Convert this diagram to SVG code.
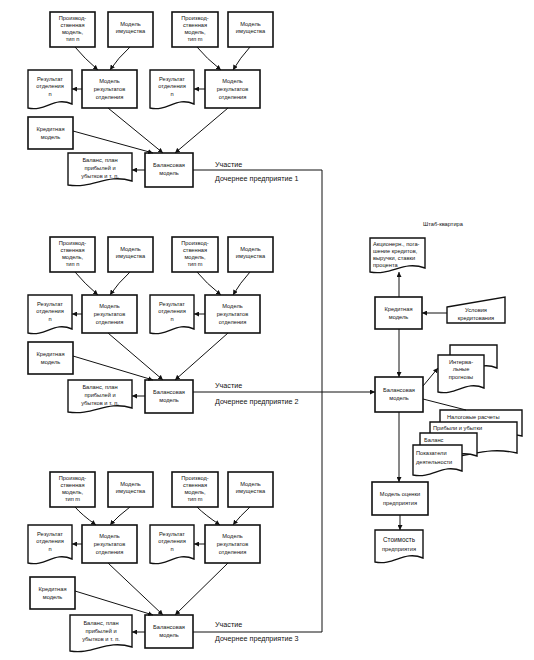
<svg xmlns="http://www.w3.org/2000/svg" width="534" height="660" viewBox="0 0 534 660">
<defs>
<style>
.bx{fill:#fff;stroke:#111;stroke-width:1.6}
.dc{fill:#fff;stroke:#111;stroke-width:1.4}
.ln{fill:none;stroke:#111;stroke-width:1}
.t{font-family:"Liberation Sans",Arial,sans-serif;font-size:5.7px;fill:#111;text-anchor:middle}
.tl{font-family:"Liberation Sans",Arial,sans-serif;font-size:5.7px;fill:#111}
.lb{font-family:"Liberation Sans",Arial,sans-serif;font-size:7.2px;fill:#111}
</style>
<marker id="ah" viewBox="0 0 6 6" refX="6" refY="3" markerWidth="5" markerHeight="5" markerUnits="userSpaceOnUse" orient="auto">
<path d="M0,0 L6,3 L0,6 Z" fill="#111"/>
</marker>
</defs>
<rect width="534" height="660" fill="#fff"/>

<g id="subsidiary-1">
<g id="s1-prod-n"><rect class="bx" x="50" y="12" width="45" height="35"/><text class="t" x="72.5" y="20">Производ-</text><text class="t" x="72.5" y="27">ственная</text><text class="t" x="72.5" y="34">модель,</text><text class="t" x="72.5" y="41">тип n</text></g>
<g id="s1-imush-1"><rect class="bx" x="108" y="12" width="45" height="35"/><text class="t" x="130.5" y="26">Модель</text><text class="t" x="130.5" y="33">имущества</text></g>
<g id="s1-prod-m"><rect class="bx" x="172" y="12" width="46" height="35"/><text class="t" x="195" y="20">Производ-</text><text class="t" x="195" y="27">ственная</text><text class="t" x="195" y="34">модель,</text><text class="t" x="195" y="41">тип m</text></g>
<g id="s1-imush-2"><rect class="bx" x="228" y="12" width="45" height="35"/><text class="t" x="250.5" y="26">Модель</text><text class="t" x="250.5" y="33">имущества</text></g>
<g id="s1-res-1"><path class="dc" d="M28,70 H72 V104 C54,96 46,112 28,108 Z"/><text class="t" x="50" y="81">Результат</text><text class="t" x="50" y="88">отделения</text><text class="t" x="50" y="96">n</text></g>
<g id="s1-mod-1"><rect class="bx" x="82" y="70" width="55" height="38"/><text class="t" x="109.5" y="83">Модель</text><text class="t" x="109.5" y="91">результатов</text><text class="t" x="109.5" y="99">отделения</text></g>
<g id="s1-res-2"><path class="dc" d="M150,70 H194 V104 C176,96 168,112 150,108 Z"/><text class="t" x="172" y="81">Результат</text><text class="t" x="172" y="88">отделения</text><text class="t" x="172" y="96">n</text></g>
<g id="s1-mod-2"><rect class="bx" x="205" y="70" width="55" height="38"/><text class="t" x="232.5" y="83">Модель</text><text class="t" x="232.5" y="91">результатов</text><text class="t" x="232.5" y="99">отделения</text></g>
<g id="s1-kred"><rect class="bx" x="28" y="117" width="45" height="32"/><text class="t" x="50.5" y="131">Кредитная</text><text class="t" x="50.5" y="139">модель</text></g>
<g id="s1-bal-doc"><path class="dc" d="M68,153 H132 V181 C106,173 94,189 68,185 Z"/><text class="t" x="100" y="162">Баланс, план</text><text class="t" x="100" y="170">прибылей и</text><text class="t" x="100" y="178">убытков и т. п.</text></g>
<g id="s1-bal-mod"><rect class="bx" x="145" y="153" width="48" height="34"/><text class="t" x="169" y="167">Балансовая</text><text class="t" x="169" y="175">модель</text></g>
</g>

<g id="subsidiary-2" transform="translate(0,225)">
<g id="s2-prod-n"><rect class="bx" x="50" y="12" width="45" height="35"/><text class="t" x="72.5" y="20">Производ-</text><text class="t" x="72.5" y="27">ственная</text><text class="t" x="72.5" y="34">модель,</text><text class="t" x="72.5" y="41">тип n</text></g>
<g id="s2-imush-1"><rect class="bx" x="108" y="12" width="45" height="35"/><text class="t" x="130.5" y="26">Модель</text><text class="t" x="130.5" y="33">имущества</text></g>
<g id="s2-prod-m"><rect class="bx" x="172" y="12" width="46" height="35"/><text class="t" x="195" y="20">Производ-</text><text class="t" x="195" y="27">ственная</text><text class="t" x="195" y="34">модель,</text><text class="t" x="195" y="41">тип m</text></g>
<g id="s2-imush-2"><rect class="bx" x="228" y="12" width="45" height="35"/><text class="t" x="250.5" y="26">Модель</text><text class="t" x="250.5" y="33">имущества</text></g>
<g id="s2-res-1"><path class="dc" d="M28,70 H72 V104 C54,96 46,112 28,108 Z"/><text class="t" x="50" y="81">Результат</text><text class="t" x="50" y="88">отделения</text><text class="t" x="50" y="96">n</text></g>
<g id="s2-mod-1"><rect class="bx" x="82" y="70" width="55" height="38"/><text class="t" x="109.5" y="83">Модель</text><text class="t" x="109.5" y="91">результатов</text><text class="t" x="109.5" y="99">отделения</text></g>
<g id="s2-res-2"><path class="dc" d="M150,70 H194 V104 C176,96 168,112 150,108 Z"/><text class="t" x="172" y="81">Результат</text><text class="t" x="172" y="88">отделения</text><text class="t" x="172" y="96">n</text></g>
<g id="s2-mod-2"><rect class="bx" x="205" y="70" width="55" height="38"/><text class="t" x="232.5" y="83">Модель</text><text class="t" x="232.5" y="91">результатов</text><text class="t" x="232.5" y="99">отделения</text></g>
<g id="s2-kred"><rect class="bx" x="28" y="117" width="45" height="32"/><text class="t" x="50.5" y="131">Кредитная</text><text class="t" x="50.5" y="139">модель</text></g>
<g id="s2-bal-doc"><path class="dc" d="M68,155 H132 V183 C106,175 94,191 68,187 Z"/><text class="t" x="100" y="164">Баланс, план</text><text class="t" x="100" y="172">прибылей и</text><text class="t" x="100" y="180">убытков и т. п.</text></g>
<g id="s2-bal-mod"><rect class="bx" x="145" y="155" width="48" height="33"/><text class="t" x="169" y="169">Балансовая</text><text class="t" x="169" y="177">модель</text></g>
</g>

<g id="subsidiary-3" transform="translate(0,460)">
<g id="s3-prod-n"><rect class="bx" x="50" y="12" width="45" height="35"/><text class="t" x="72.5" y="20">Производ-</text><text class="t" x="72.5" y="27">ственная</text><text class="t" x="72.5" y="34">модель,</text><text class="t" x="72.5" y="41">тип m</text></g>
<g id="s3-imush-1"><rect class="bx" x="108" y="12" width="45" height="35"/><text class="t" x="130.5" y="26">Модель</text><text class="t" x="130.5" y="33">имущества</text></g>
<g id="s3-prod-m"><rect class="bx" x="172" y="12" width="46" height="35"/><text class="t" x="195" y="20">Производ-</text><text class="t" x="195" y="27">ственная</text><text class="t" x="195" y="34">модель,</text><text class="t" x="195" y="41">тип m</text></g>
<g id="s3-imush-2"><rect class="bx" x="228" y="12" width="45" height="35"/><text class="t" x="250.5" y="26">Модель</text><text class="t" x="250.5" y="33">имущества</text></g>
<g id="s3-res-1"><path class="dc" d="M28,65 H72 V99 C54,91 46,107 28,103 Z"/><text class="t" x="50" y="76">Результат</text><text class="t" x="50" y="83">отделения</text><text class="t" x="50" y="91">n</text></g>
<g id="s3-mod-1"><rect class="bx" x="82" y="65" width="55" height="38"/><text class="t" x="109.5" y="78">Модель</text><text class="t" x="109.5" y="86">результатов</text><text class="t" x="109.5" y="94">отделения</text></g>
<g id="s3-res-2"><path class="dc" d="M150,65 H194 V99 C176,91 168,107 150,103 Z"/><text class="t" x="172" y="76">Результат</text><text class="t" x="172" y="83">отделения</text><text class="t" x="172" y="91">n</text></g>
<g id="s3-mod-2"><rect class="bx" x="205" y="65" width="55" height="38"/><text class="t" x="232.5" y="78">Модель</text><text class="t" x="232.5" y="86">результатов</text><text class="t" x="232.5" y="94">отделения</text></g>
<g id="s3-kred"><rect class="bx" x="30" y="117" width="45" height="32"/><text class="t" x="52.5" y="131">Кредитная</text><text class="t" x="52.5" y="139">модель</text></g>
<g id="s3-bal-doc"><path class="dc" d="M70,155 H132 V187 C106,179 94,195 70,191 Z"/><text class="t" x="101" y="165">Баланс, план</text><text class="t" x="101" y="173">прибылей и</text><text class="t" x="101" y="181">убытков и т. п.</text></g>
<g id="s3-bal-mod"><rect class="bx" x="145" y="155" width="48" height="33"/><text class="t" x="169" y="169">Балансовая</text><text class="t" x="169" y="177">модель</text></g>
</g>

<g id="labels">
<text class="lb" x="215" y="167">Участие</text><text class="lb" x="215" y="181">Дочернее предприятие 1</text>
<text class="lb" x="215" y="388">Участие</text><text class="lb" x="215" y="404">Дочернее предприятие 2</text>
<text class="lb" x="215" y="627">Участие</text><text class="lb" x="215" y="641">Дочернее предприятие 3</text>
<text class="t" x="443" y="226">Штаб-квартира</text>
</g>

<g id="hq-doc"><path class="dc" d="M370,238 H425 V268 C403,260 392,276 370,272 Z"/><text class="tl" x="373" y="246">Акционерн., пога-</text><text class="tl" x="373" y="253">шение кредитов,</text><text class="tl" x="373" y="260">выручки, ставки</text><text class="tl" x="373" y="267">процента</text></g>
<g id="hq-kred"><rect class="bx" x="375" y="297" width="47" height="32"/><text class="t" x="398.5" y="311">Кредитная</text><text class="t" x="398.5" y="319">модель</text></g>
<g id="hq-usl"><path class="dc" d="M447,307 L505,297 V323 H447 Z"/><text class="t" x="476" y="312">Условия</text><text class="t" x="476" y="320">кредитования</text></g>
<g id="hq-bal"><rect class="bx" x="375" y="377" width="48" height="35"/><text class="t" x="399" y="392">Балансовая</text><text class="t" x="399" y="400">модель</text></g>
<g id="hq-interval"><path class="dc" d="M450,345 H497 V368 C478,360 469,376 450,372 Z"/><path class="dc" d="M438,355 H484 V388 C466,380 456,396 438,392 Z"/><text class="t" x="461" y="364">Интерва-</text><text class="t" x="461" y="371">льные</text><text class="t" x="461" y="379">прогнозы</text></g>
<g id="hq-reports">
<path class="dc" d="M440,410 H522 V436 C489,428 473,444 440,440 Z"/><text class="tl" x="447" y="419">Налоговые расчеты</text>
<path class="dc" d="M430,422 H517 V453 C482,445 465,461 430,457 Z"/><text class="tl" x="433" y="430">Прибыли и убытки</text>
<path class="dc" d="M420,433 H477 V456 C454,448 443,464 420,460 Z"/><text class="tl" x="424" y="442">Баланс</text>
<path class="dc" d="M413,445 H462 V471 C442,463 433,479 413,475 Z"/><text class="tl" x="416" y="455">Показатели</text><text class="tl" x="416" y="464">деятельности</text>
</g>
<g id="hq-ocenka"><rect class="bx" x="372" y="482" width="56" height="33"/><text class="t" x="400" y="496">Модель оценки</text><text class="t" x="400" y="505">предприятия</text></g>
<g id="hq-value"><path class="dc" d="M375,530 H423 V558 C404,550 394,566 375,562 Z"/><text class="t" x="399" y="542" style="font-size:6.4px">Стоимость</text><text class="t" x="399" y="551">предприятия</text></g>

<g id="connectors">
<g id="c1">
<path class="ln" d="M75,47 Q84,58 98,70" marker-end="url(#ah)"/>
<path class="ln" d="M130,47 Q118,58 110,70" marker-end="url(#ah)"/>
<path class="ln" d="M197,47 Q206,58 221,70" marker-end="url(#ah)"/>
<path class="ln" d="M250,47 Q240,58 233,70" marker-end="url(#ah)"/>
<path class="ln" d="M82,89 H72" marker-end="url(#ah)"/>
<path class="ln" d="M205,89 H194" marker-end="url(#ah)"/>
<path class="ln" d="M108,108 L163,153" marker-end="url(#ah)"/>
<path class="ln" d="M228,108 L175,153" marker-end="url(#ah)"/>
<path class="ln" d="M73,131 L153,153" marker-end="url(#ah)"/>
<path class="ln" d="M145,170 H132" marker-end="url(#ah)"/>
</g>
<g id="c2" transform="translate(0,225)">
<path class="ln" d="M75,47 Q84,58 98,70" marker-end="url(#ah)"/>
<path class="ln" d="M130,47 Q118,58 110,70" marker-end="url(#ah)"/>
<path class="ln" d="M197,47 Q206,58 221,70" marker-end="url(#ah)"/>
<path class="ln" d="M250,47 Q240,58 233,70" marker-end="url(#ah)"/>
<path class="ln" d="M82,89 H72" marker-end="url(#ah)"/>
<path class="ln" d="M205,89 H194" marker-end="url(#ah)"/>
<path class="ln" d="M108,108 L163,155" marker-end="url(#ah)"/>
<path class="ln" d="M228,108 L175,155" marker-end="url(#ah)"/>
<path class="ln" d="M73,131 L153,155" marker-end="url(#ah)"/>
<path class="ln" d="M145,171 H132" marker-end="url(#ah)"/>
</g>
<g id="c3" transform="translate(0,460)">
<path class="ln" d="M75,47 Q82,55 96,65" marker-end="url(#ah)"/>
<path class="ln" d="M130,47 Q118,56 110,65" marker-end="url(#ah)"/>
<path class="ln" d="M197,47 Q205,55 220,65" marker-end="url(#ah)"/>
<path class="ln" d="M250,47 Q240,56 233,65" marker-end="url(#ah)"/>
<path class="ln" d="M82,84 H72" marker-end="url(#ah)"/>
<path class="ln" d="M205,84 H194" marker-end="url(#ah)"/>
<path class="ln" d="M108,103 L163,155" marker-end="url(#ah)"/>
<path class="ln" d="M228,103 L175,155" marker-end="url(#ah)"/>
<path class="ln" d="M75,131 L153,155" marker-end="url(#ah)"/>
<path class="ln" d="M145,172 H132" marker-end="url(#ah)"/>
</g>
<path class="ln" d="M193,170 H322 V632 H193"/>
<path class="ln" d="M193,392 H375" marker-end="url(#ah)"/>
<path class="ln" d="M399,297 V272" marker-end="url(#ah)"/>
<path class="ln" d="M447,313 H422" marker-end="url(#ah)"/>
<path class="ln" d="M399,329 V377" marker-end="url(#ah)"/>
<path class="ln" d="M423,386 L438,368" marker-end="url(#ah)"/>
<path class="ln" d="M423,399 L466,410"/>
<path class="ln" d="M399,412 V482" marker-end="url(#ah)"/>
<path class="ln" d="M400,515 V530" marker-end="url(#ah)"/>
</g>
</svg>
